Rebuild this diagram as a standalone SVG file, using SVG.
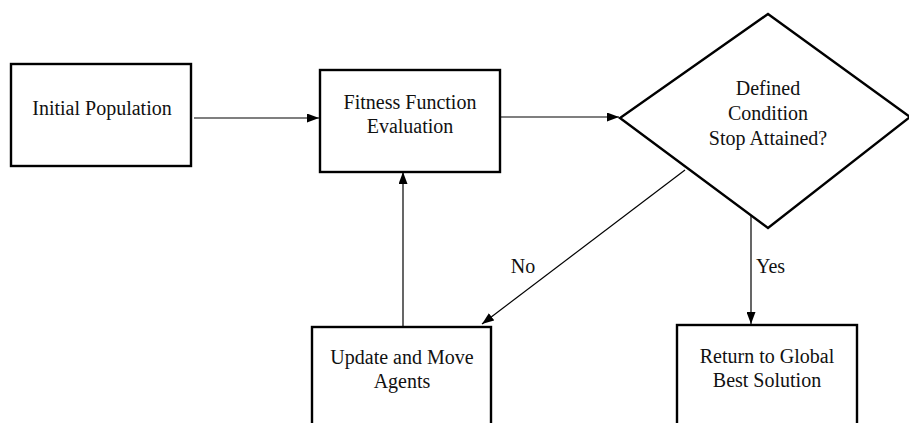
<svg xmlns="http://www.w3.org/2000/svg" width="909" height="423" viewBox="0 0 909 423">
<defs>
<marker id="ah" viewBox="0 0 12 9" refX="12" refY="4.5" markerWidth="12" markerHeight="9" markerUnits="userSpaceOnUse" orient="auto">
<path d="M0,0 L12,4.5 L0,9 Z" fill="#000"/>
</marker>
<style>
.box{fill:#fff;stroke:#000;stroke-width:2.4}
.t{font-family:"Liberation Serif","Times New Roman",serif;font-size:20px;fill:#111;text-anchor:middle}
.c{fill:none;stroke:#000;stroke-width:1.2;marker-end:url(#ah)}
</style>
</defs>
<rect width="909" height="423" fill="#fff"/>
<g id="connectors">
<line class="c" x1="194" y1="118" x2="319" y2="118"/>
<line class="c" x1="501" y1="117" x2="619" y2="117"/>
<line class="c" x1="403" y1="326" x2="403" y2="172"/>
<line class="c" x1="685" y1="170" x2="482" y2="324"/>
<line class="c" x1="751" y1="213" x2="751" y2="324"/>
</g>
<g id="initial">
<rect class="box" x="11" y="64" width="180" height="102"/>
<text class="t" x="102" y="115">Initial Population</text>
</g>
<g id="fitness">
<rect class="box" x="320" y="70" width="180" height="102"/>
<text class="t" x="410" y="109">Fitness Function</text>
<text class="t" x="410" y="133">Evaluation</text>
</g>
<g id="decision">
<polygon class="box" points="768,14 910,117 768,228 620,118"/>
<text class="t" x="768" y="95">Defined</text>
<text class="t" x="768" y="120">Condition</text>
<text class="t" x="768" y="145">Stop Attained?</text>
</g>
<g id="update">
<rect class="box" x="312" y="327" width="179" height="110"/>
<text class="t" x="402" y="364">Update and Move</text>
<text class="t" x="402" y="388">Agents</text>
</g>
<g id="return">
<rect class="box" x="677" y="325" width="180" height="110"/>
<text class="t" x="767" y="363">Return to Global</text>
<text class="t" x="767" y="387">Best Solution</text>
</g>
<g id="labels">
<text class="t" x="523" y="273">No</text>
<text class="t" x="756" y="273" style="text-anchor:start">Yes</text>
</g>
</svg>
